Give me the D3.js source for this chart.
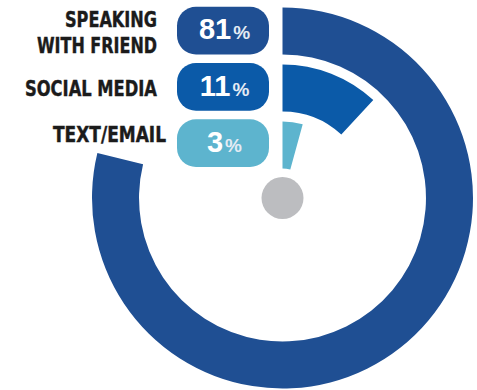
<!DOCTYPE html>
<html>
<head>
<meta charset="utf-8">
<script src="https://cdn.jsdelivr.net/npm/d3@7"></script>
<style>
  html, body { margin: 0; padding: 0; background: #fff; }
  svg { display: block; }
</style>
</head>
<body>
<svg id="chart" width="477" height="390"></svg>
<script>
// data
const categories = ['speaking', 'social', 'text'];
const labelLines = [['SPEAKING', 'WITH FRIEND'], ['SOCIAL MEDIA'], ['TEXT/EMAIL']];
const values = [81, 11, 3];
const colors = ['#1f4f93', '#0b5aa8', '#5db4ce'];

// layout of the label column (baseline offset from pill top, right edge, text widths)
const labelLayout = [
  { right: 157, lines: [{ dy: 20, w: 92 }, { dy: 46.3, w: 120 }] },
  { right: 157, lines: [{ dy: 33.4, w: 132 }] },
  { right: 166, lines: [{ dy: 22.7, w: 113 }] }
];

const width = 477, height = 390;
const cx = 282.5, cy = 198;
const svg = d3.select('#chart');

const rows = categories.map((c, i) => ({ cat: c, value: values[i], color: colors[i], lines: labelLines[i], layout: labelLayout[i] }));

// radial bands, first category outermost
const r = d3.scaleBand().domain(categories).range([190.5, 29.5]).paddingInner(0.175);
// angle scale as drawn in the infographic
const angle = d3.scaleLinear().domain([0, 100]).range([5 * Math.PI / 180, 349 * Math.PI / 180]);

const arc = d3.arc()
  .innerRadius(d => r(d.cat))
  .outerRadius(d => r(d.cat) + r.bandwidth())
  .startAngle(0)
  .endAngle(d => angle(d.value));

const g = svg.append('g').attr('transform', `translate(${cx},${cy})`);
g.selectAll('path.bar').data(rows).enter().append('path')
  .attr('class', 'bar')
  .attr('d', arc)
  .attr('fill', d => d.color);

g.append('circle').attr('r', 21).attr('fill', '#bcbdc0');

// pills with the percentages
const y = d3.scaleBand().domain(categories).range([6.7, 167]).paddingInner(0.15);
const pillX = 177, pillW = 92;

const pills = svg.selectAll('g.pill').data(rows).enter().append('g')
  .attr('class', 'pill')
  .attr('transform', d => `translate(0,${y(d.cat)})`);

pills.append('rect')
  .attr('x', pillX)
  .attr('width', pillW)
  .attr('height', y.bandwidth())
  .attr('rx', 19)
  .attr('fill', d => d.color);

const pct = pills.append('text')
  .attr('x', 224.5)
  .attr('y', 32.6)
  .attr('text-anchor', 'middle')
  .attr('font-family', '"Liberation Sans", Arial, sans-serif')
  .attr('font-weight', 'bold')
  .attr('fill', '#fff');
pct.append('tspan').attr('font-size', 29).text(d => d.value);
pct.append('tspan').attr('font-size', 19).attr('dx', 2).attr('fill', '#e4ebf4').text('%');

// category labels
pills.each(function (d) {
  const sel = d3.select(this);
  d.lines.forEach((line, j) => {
    const l = d.layout.lines[j];
    sel.append('text')
      .attr('x', d.layout.right)
      .attr('y', l.dy)
      .attr('text-anchor', 'end')
      .attr('font-family', '"Liberation Sans Narrow", "DejaVu Sans Condensed", "Liberation Sans", sans-serif')
      .attr('font-weight', 'bold')
      .attr('font-size', 21)
      .attr('textLength', l.w)
      .attr('lengthAdjust', 'spacingAndGlyphs')
      .attr('fill', '#1b1b1b')
      .attr('stroke', '#1b1b1b')
      .attr('stroke-width', 0.4)
      .text(line);
  });
});
</script>
</body>
</html>
